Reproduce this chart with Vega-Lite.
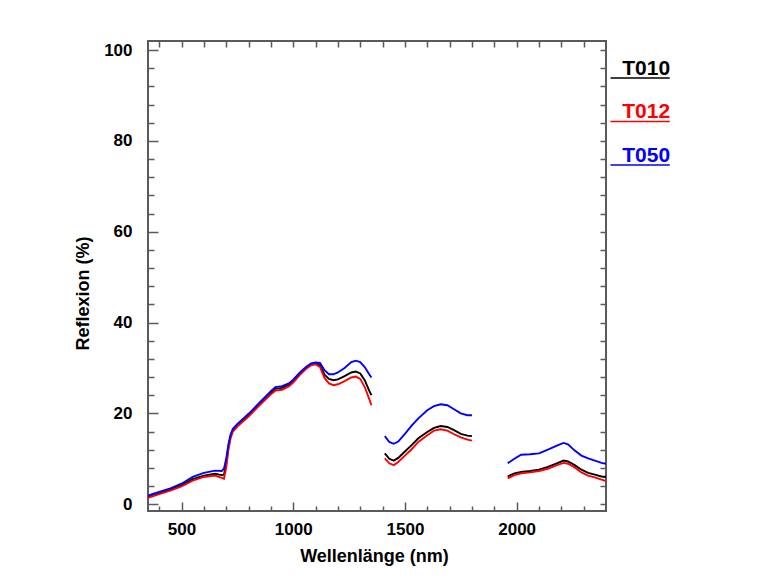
{
  "$schema": "https://vega.github.io/schema/vega-lite/v6.json",
  "width": 458,
  "height": 470,
  "autosize": {"type": "none"},
  "padding": {"left": 148, "top": 41, "right": 164, "bottom": 77},
  "background": "white",
  "config": {
    "font": "Liberation Sans",
    "view": {"stroke": "#5a5a5a", "strokeWidth": 2},
    "axis": {
      "domain": false,
      "grid": false,
      "tickColor": "#5a5a5a",
      "tickWidth": 1.5,
      "labelFont": "Liberation Sans",
      "labelFontWeight": "bold",
      "labelFontSize": 17,
      "labelColor": "#000000",
      "titleFont": "Liberation Sans",
      "titleFontWeight": "bold",
      "titleFontSize": 18,
      "titleColor": "#000000"
    }
  },
  "data": {
    "values": [
      {"seg": 1, "nm": 350, "T010": 1.6, "T012": 1.4, "T050": 1.9},
      {"seg": 1, "nm": 400, "T010": 2.4, "T012": 2.2, "T050": 2.7},
      {"seg": 1, "nm": 450, "T010": 3.2, "T012": 3.0, "T050": 3.5},
      {"seg": 1, "nm": 500, "T010": 4.2, "T012": 3.9, "T050": 4.5},
      {"seg": 1, "nm": 550, "T010": 5.5, "T012": 5.2, "T050": 6.0},
      {"seg": 1, "nm": 600, "T010": 6.3, "T012": 6.0, "T050": 6.9},
      {"seg": 1, "nm": 650, "T010": 6.7, "T012": 6.3, "T050": 7.4},
      {"seg": 1, "nm": 680, "T010": 6.4, "T012": 5.8, "T050": 7.3},
      {"seg": 1, "nm": 690, "T010": 6.5, "T012": 5.6, "T050": 7.8},
      {"seg": 1, "nm": 700, "T010": 8.8, "T012": 8.0, "T050": 10.0},
      {"seg": 1, "nm": 710, "T010": 12.6, "T012": 12.0, "T050": 13.2},
      {"seg": 1, "nm": 720, "T010": 15.0, "T012": 14.6, "T050": 15.4},
      {"seg": 1, "nm": 730, "T010": 16.3, "T012": 16.0, "T050": 16.6},
      {"seg": 1, "nm": 750, "T010": 17.4, "T012": 17.1, "T050": 17.7},
      {"seg": 1, "nm": 780, "T010": 18.7, "T012": 18.4, "T050": 19.0},
      {"seg": 1, "nm": 800, "T010": 19.6, "T012": 19.3, "T050": 19.9},
      {"seg": 1, "nm": 850, "T010": 22.1, "T012": 21.8, "T050": 22.4},
      {"seg": 1, "nm": 900, "T010": 24.6, "T012": 24.2, "T050": 24.9},
      {"seg": 1, "nm": 920, "T010": 25.4, "T012": 25.0, "T050": 25.8},
      {"seg": 1, "nm": 950, "T010": 25.6, "T012": 25.2, "T050": 26.0},
      {"seg": 1, "nm": 980, "T010": 26.3, "T012": 25.9, "T050": 26.6},
      {"seg": 1, "nm": 1000, "T010": 27.1, "T012": 26.8, "T050": 27.4},
      {"seg": 1, "nm": 1030, "T010": 28.8, "T012": 28.5, "T050": 29.0},
      {"seg": 1, "nm": 1060, "T010": 30.1, "T012": 29.9, "T050": 30.3},
      {"seg": 1, "nm": 1080, "T010": 30.8, "T012": 30.6, "T050": 31.0},
      {"seg": 1, "nm": 1100, "T010": 31.0, "T012": 30.8, "T050": 31.2},
      {"seg": 1, "nm": 1120, "T010": 30.6, "T012": 30.2, "T050": 31.1},
      {"seg": 1, "nm": 1140, "T010": 28.5, "T012": 27.8, "T050": 29.5},
      {"seg": 1, "nm": 1160, "T010": 27.6, "T012": 26.6, "T050": 28.6},
      {"seg": 1, "nm": 1180, "T010": 27.3, "T012": 26.2, "T050": 28.6},
      {"seg": 1, "nm": 1200, "T010": 27.5, "T012": 26.4, "T050": 29.0},
      {"seg": 1, "nm": 1230, "T010": 28.2, "T012": 27.1, "T050": 30.0},
      {"seg": 1, "nm": 1260, "T010": 29.0, "T012": 27.9, "T050": 31.3},
      {"seg": 1, "nm": 1280, "T010": 29.2, "T012": 28.1, "T050": 31.6},
      {"seg": 1, "nm": 1300, "T010": 28.8, "T012": 27.6, "T050": 31.3},
      {"seg": 1, "nm": 1320, "T010": 27.3, "T012": 25.8, "T050": 30.2},
      {"seg": 1, "nm": 1340, "T010": 25.0, "T012": 23.2, "T050": 28.6},
      {"seg": 1, "nm": 1350, "T010": 24.0, "T012": 21.8, "T050": 27.9},
      {"seg": 2, "nm": 1410, "T010": 11.2, "T012": 10.1, "T050": 15.0},
      {"seg": 2, "nm": 1430, "T010": 10.0, "T012": 9.0, "T050": 13.7},
      {"seg": 2, "nm": 1450, "T010": 9.6, "T012": 8.6, "T050": 13.3},
      {"seg": 2, "nm": 1470, "T010": 10.2, "T012": 9.3, "T050": 13.8},
      {"seg": 2, "nm": 1500, "T010": 11.6, "T012": 10.7, "T050": 15.5},
      {"seg": 2, "nm": 1530, "T010": 13.0, "T012": 12.1, "T050": 17.3},
      {"seg": 2, "nm": 1560, "T010": 14.5, "T012": 13.7, "T050": 18.9},
      {"seg": 2, "nm": 1600, "T010": 15.9, "T012": 15.2, "T050": 20.7},
      {"seg": 2, "nm": 1630, "T010": 16.8, "T012": 16.2, "T050": 21.6},
      {"seg": 2, "nm": 1660, "T010": 17.2, "T012": 16.5, "T050": 22.0},
      {"seg": 2, "nm": 1690, "T010": 17.0, "T012": 16.2, "T050": 21.8},
      {"seg": 2, "nm": 1720, "T010": 16.3, "T012": 15.4, "T050": 20.9},
      {"seg": 2, "nm": 1750, "T010": 15.5, "T012": 14.7, "T050": 20.0},
      {"seg": 2, "nm": 1780, "T010": 15.1, "T012": 14.2, "T050": 19.6},
      {"seg": 2, "nm": 1800, "T010": 15.0, "T012": 14.0, "T050": 19.6},
      {"seg": 3, "nm": 1960, "T010": 6.1, "T012": 5.7, "T050": 9.0},
      {"seg": 3, "nm": 1990, "T010": 6.8, "T012": 6.4, "T050": 10.0},
      {"seg": 3, "nm": 2020, "T010": 7.1, "T012": 6.8, "T050": 10.9},
      {"seg": 3, "nm": 2060, "T010": 7.3, "T012": 7.0, "T050": 11.0},
      {"seg": 3, "nm": 2100, "T010": 7.6, "T012": 7.3, "T050": 11.2},
      {"seg": 3, "nm": 2140, "T010": 8.2, "T012": 7.8, "T050": 12.0},
      {"seg": 3, "nm": 2180, "T010": 9.0, "T012": 8.6, "T050": 12.9},
      {"seg": 3, "nm": 2210, "T010": 9.6, "T012": 9.1, "T050": 13.5},
      {"seg": 3, "nm": 2230, "T010": 9.4, "T012": 8.9, "T050": 13.2},
      {"seg": 3, "nm": 2260, "T010": 8.6, "T012": 8.1, "T050": 11.8},
      {"seg": 3, "nm": 2290, "T010": 7.6, "T012": 7.0, "T050": 10.7},
      {"seg": 3, "nm": 2320, "T010": 6.9, "T012": 6.3, "T050": 10.1},
      {"seg": 3, "nm": 2350, "T010": 6.5, "T012": 5.9, "T050": 9.6},
      {"seg": 3, "nm": 2380, "T010": 6.1, "T012": 5.4, "T050": 9.1},
      {"seg": 3, "nm": 2400, "T010": 6.0, "T012": 5.1, "T050": 8.9}
    ]
  },
  "transform": [{"fold": ["T010", "T012", "T050"], "as": ["key", "r"]}],
  "layer": [
    {
      "mark": {"type": "line", "strokeWidth": 1.9, "clip": true},
      "encoding": {
        "x": {
          "field": "nm", "type": "quantitative",
          "scale": {"domain": [350, 2400], "nice": false, "zero": false},
          "axis": {
            "orient": "bottom", "values": [500, 1000, 1500, 2000], "format": "d", "tickSize": -9,
            "labelPadding": 19, "title": "Wellenlänge (nm)",
            "titleX": 226, "titleY": 45, "titleBaseline": "middle", "titleAnchor": "middle", "titleAlign": "center"
          }
        },
        "y": {
          "field": "r", "type": "quantitative",
          "scale": {"domain": [-1.5, 102], "nice": false, "zero": false},
          "axis": {
            "orient": "left", "values": [0, 20, 40, 60, 80, 100], "format": "d", "tickSize": -10,
            "labelPadding": 26, "title": "Reflexion (%)",
            "titleX": -65, "titleY": 252, "titleBaseline": "middle", "titleAngle": -90, "titleAlign": "center"
          }
        },
        "color": {
          "field": "key", "type": "nominal",
          "scale": {"domain": ["T010", "T012", "T050"], "range": ["#000000", "#ff0000", "#0000ff"]},
          "legend": {
            "title": null, "orient": "none", "legendX": 457, "legendY": 17, "padding": 0,
            "symbolType": "M-1,1.9H10.85", "symbolSize": 100, "symbolStrokeWidth": 1.5,
            "labelFont": "Liberation Sans", "labelFontWeight": "bold", "labelFontSize": 21,
            "labelOffset": -3.75, "rowPadding": 19.5,
            "encode": {"labels": {"update": {"fill": {"scale": "color", "field": "value"}}}}
          }
        },
        "detail": {"field": "seg", "type": "nominal"}
      }
    },
    {
      "mark": {"type": "point", "opacity": 0, "size": 0},
      "encoding": {
        "x": {
          "field": "nm", "type": "quantitative",
          "axis": {"orient": "bottom", "values": [400, 600, 700, 800, 900, 1100, 1200, 1300, 1400, 1600, 1700, 1800, 1900, 2100, 2200, 2300], "tickSize": -5, "labels": false, "title": null}
        },
        "y": {
          "field": "r", "type": "quantitative",
          "axis": {"orient": "left", "values": [4, 8, 12, 16, 24, 28, 32, 36, 44, 48, 52, 56, 64, 68, 72, 76, 84, 88, 92, 96], "tickSize": -6, "labels": false, "title": null}
        }
      }
    },
    {
      "mark": {"type": "point", "opacity": 0, "size": 0},
      "encoding": {
        "x": {
          "field": "nm", "type": "quantitative",
          "axis": {"orient": "top", "values": [400, 500, 600, 700, 800, 900, 1000, 1100, 1200, 1300, 1400, 1500, 1600, 1700, 1800, 1900, 2000, 2100, 2200, 2300], "tickSize": -6, "labels": false, "title": null}
        },
        "y": {
          "field": "r", "type": "quantitative",
          "axis": {"orient": "right", "values": [0, 4, 8, 12, 16, 20, 24, 28, 32, 36, 40, 44, 48, 52, 56, 60, 64, 68, 72, 76, 80, 84, 88, 92, 96, 100], "tickSize": -6, "labels": false, "title": null}
        }
      }
    }
  ],
  "resolve": {"axis": {"x": "independent", "y": "independent"}}
}
